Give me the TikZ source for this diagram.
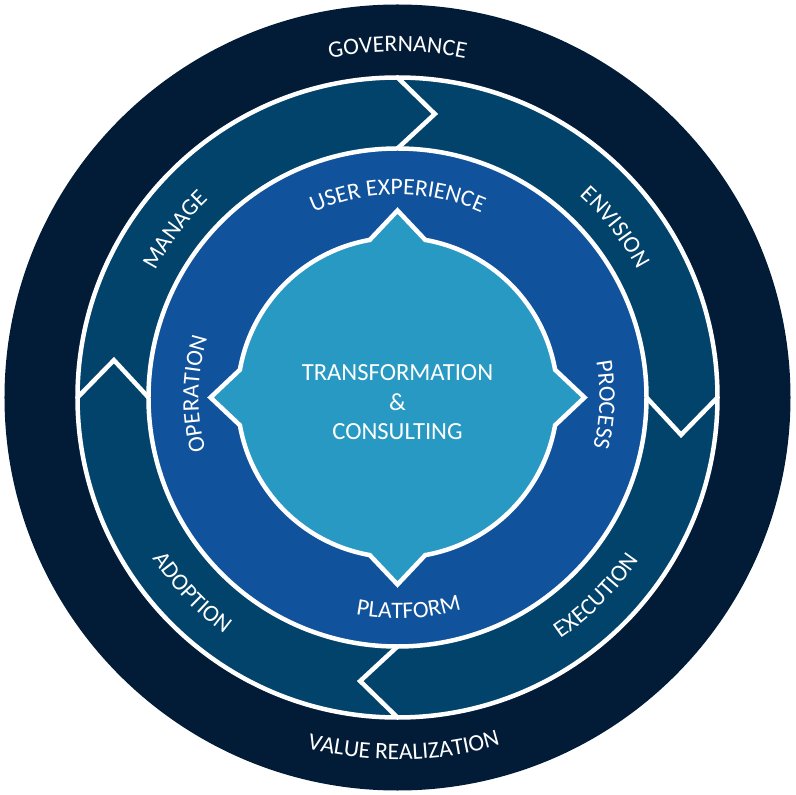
\documentclass[tikz,border=0pt]{standalone}
\usepackage{fontspec}
\setmainfont{Carlito}
\usetikzlibrary{decorations.text}

\definecolor{navyring}{HTML}{021C38}
\definecolor{arrowring}{HTML}{02436B}
\definecolor{bluering}{HTML}{10529B}
\definecolor{corecolor}{HTML}{2899C2}

\newcommand{\ringfont}{\fontsize{16.8}{20}\selectfont}
\newcommand{\corefont}{\fontsize{17.5}{21}\selectfont}

\tikzset{
  ringline/.style={white, line width=3.2pt},
  ringtext/.style={decorate, decoration={text along path, text align=center,
      text color=white, text={|\ringfont|#1}}}
}

\begin{document}
\begin{tikzpicture}[x=0.025cm, y=0.025cm]
\useasboundingbox (-397.5,-397.5) rectangle (397.5,397.5);
% outer ring
\fill[navyring] (0,0) circle[radius=393];
\path[ringtext=GOVERNANCE] (140:346) arc[start angle=140, end angle=40, radius=346];
\path[ringtext=VALUE REALIZATION] (-139:362) arc[start angle=-139, end angle=-39, radius=362];
% arrow ring
\fill[arrowring] (0,0) circle[radius=320];
\foreach \a in {90,0,-90,180}
  \draw[ringline] (\a:320) -- (\a-7.5:286) -- (\a:249);
\draw[ringline] (0,0) circle[radius=320];
\path[ringtext=MANAGE] (188:273) arc[start angle=188, end angle=98, radius=273];
\path[ringtext=ENVISION] (83:272) arc[start angle=83, end angle=-7, radius=272];
\path[ringtext=EXECUTION] (-90:291) arc[start angle=-90, end angle=0, radius=291];
\path[ringtext=ADOPTION] (-181.5:293) arc[start angle=-181.5, end angle=-91.5, radius=293];
% blue ring
\draw[ringline, fill=bluering] (0,0) circle[radius=249];
\path[ringtext=USER EXPERIENCE] (140:203) arc[start angle=140, end angle=40, radius=203];
\path[ringtext=PROCESS] (48:202) arc[start angle=48, end angle=-52, radius=202];
\path[ringtext=OPERATION] (229:199) arc[start angle=229, end angle=129, radius=199];
\path[ringtext=PLATFORM] (-137:221) arc[start angle=-137, end angle=-37, radius=221];
% core
\draw[ringline, fill=corecolor, line join=miter]
  (10:160) arc[start angle=10, end angle=80, radius=160] -- (90:187)
  -- (100:160) arc[start angle=100, end angle=170, radius=160] -- (180:187)
  -- (190:160) arc[start angle=190, end angle=260, radius=160] -- (270:187)
  -- (280:160) arc[start angle=280, end angle=350, radius=160] -- (0:187) -- cycle;
\node[align=center, text=white, font=\corefont] (core) at (0,-5)
  {TRANSFORMATION\\\&\\CONSULTING};
\end{tikzpicture}
\end{document}
